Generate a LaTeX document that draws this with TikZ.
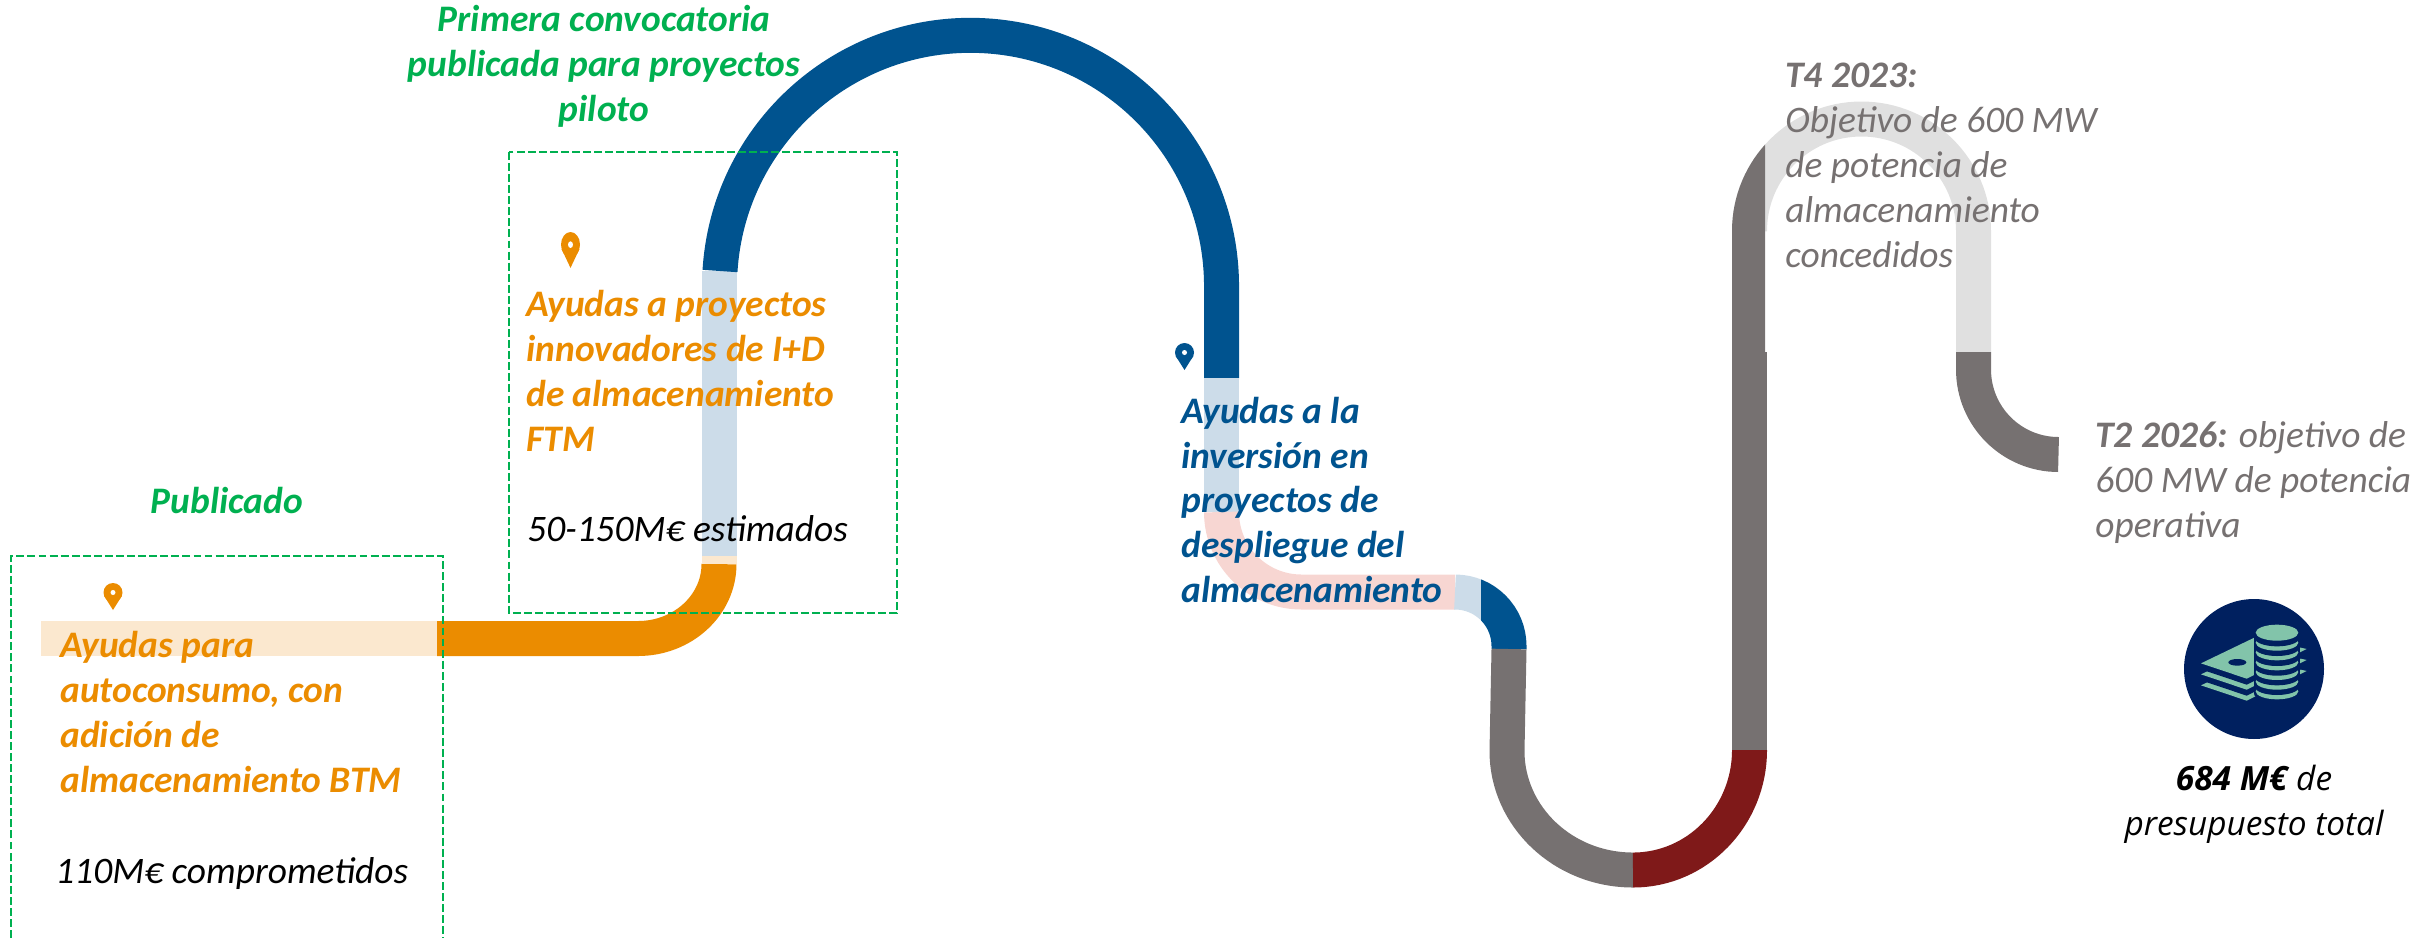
\documentclass[tikz,border=0pt]{standalone}
\usepackage{fontspec}
\setmainfont{Carlito}
\newfontfamily\budgetfont{Open Sans}
\definecolor{naranja}{HTML}{EB8C00}
\definecolor{naranjaclaro}{HTML}{FBE8CF}
\definecolor{azul}{HTML}{00538F}
\definecolor{azulclaro}{HTML}{CCDCE9}
\definecolor{rojoclaro}{HTML}{F7D6D2}
\definecolor{rojo}{HTML}{7F1919}
\definecolor{gris}{HTML}{767171}
\definecolor{grisclaro}{HTML}{E0E0E0}
\definecolor{verde}{HTML}{00B050}
\definecolor{marino}{HTML}{00205F}
\definecolor{menta}{HTML}{82C4AA}
\tikzset{
  tramo/.style={line width=0.7cm},
  caja/.style={verde,line width=1.4pt,dash pattern=on 4.5pt off 1.8pt},
  etiqueta/.style={inner sep=0pt,anchor=base west,align=left,font=\fontsize{21.3}{25.5}\selectfont\itshape},
  destacado/.style={etiqueta,font=\fontsize{21.3}{25.5}\selectfont\bfseries\itshape},
  titulo/.style={destacado,verde,anchor=base,align=center},
  marca/.pic={
    \fill (0,9.5) circle (9.5);
    \fill (-8.8,13) -- (0,27) -- (8.8,13) -- (0,9.5) -- cycle;
    \fill[white] (0,9.5) circle (2.5);
  }
}
\begin{document}
\begin{tikzpicture}[x=0.02cm,y=-0.02cm]
\useasboundingbox (0,0) rectangle (2430,938);
% carretera
\draw[tramo,naranjaclaro] (41,638.5) -- (437,638.5);
\draw[tramo,naranja] (437,638.5) -- (638,638.5) arc[start angle=90,end angle=0,x radius=81,y radius=74.5];
\draw[tramo,naranjaclaro] (719.5,564) -- (719.5,556);
\draw[tramo,azulclaro] (719.5,556) -- (719.5,271);
\draw[tramo,azul] (720,271) arc[start angle=183.5,end angle=360,radius=251] -- (1221.5,378);
\draw[tramo,azulclaro] (1221.5,378) -- (1221.5,512);
\draw[tramo,rojoclaro] (1221.5,512) arc[start angle=180,end angle=90,radius=80] -- (1455,592);
\begin{scope}
  \clip (1400,560) rectangle (1481,660);
  \draw[tramo,azulclaro] (1455,592) arc[start angle=270,end angle=360,radius=54] -- (1509,649);
\end{scope}
\begin{scope}
  \clip (1481,560) rectangle (1560,660);
  \draw[tramo,azul] (1455,592) arc[start angle=270,end angle=360,radius=54] -- (1509,649);
\end{scope}
\draw[tramo,gris] (1509,649) -- (1507,751) arc[start angle=180,end angle=90,x radius=126,y radius=119];
\draw[tramo,rojo] (1633,870) arc[start angle=90,end angle=0,x radius=116.5,y radius=120];
\draw[tramo,gris] (1749.5,750) -- (1749.5,352);
\draw[tramo,grisclaro] (1749.5,231) arc[start angle=180,end angle=360,radius=112] -- (1973.5,352);
\begin{scope}
  \clip (1720,100) rectangle (1765,352);
  \draw[tramo,gris] (1749.5,352) -- (1749.5,231) arc[start angle=180,end angle=360,radius=112];
\end{scope}
\draw[tramo,gris] (1973.5,352) -- (1973.5,369.5) arc[start angle=180,end angle=90,radius=85];
% cajas
\draw[caja] (11,938) |- (443,556) -- (443,938);
\draw[caja] (509,152) rectangle (897,613);
% marcas
\pic[naranja] at (113,583) {marca};
\pic[naranja,yscale=1.33] at (570.5,232) {marca};
\pic[azul] at (1184.5,343) {marca};
% textos
\node[titulo] (publicado) at (227,513) {Publicado};
\node[titulo] (primera) at (604,121) {Primera convocatoria\\publicada para proyectos\\piloto};
\node[destacado,naranja] (autoconsumo) at (60,792) {Ayudas para\\autoconsumo, con\\adición de\\almacenamiento BTM};
\node[etiqueta] (comprometidos) at (55,883) {110M€ comprometidos};
\node[destacado,naranja] (innovadores) at (526,451) {Ayudas a proyectos\\innovadores de I+D\\de almacenamiento\\FTM};
\node[etiqueta] (estimados) at (527,541) {50-150M€ estimados};
\node[destacado,azul] (inversion) at (1181,602.5) {Ayudas a la\\inversión en\\proyectos de\\despliegue del\\almacenamiento};
\node[etiqueta,gris] (concedidos) at (1785,267) {\textbf{T4 2023:}\\Objetivo de 600 MW\\de potencia de\\almacenamiento\\concedidos};
\node[etiqueta,gris] (operativa) at (2095,537) {\textbf{T2 2026:} objetivo de\\600 MW de potencia\\operativa};
% presupuesto
\node[circle,fill=marino,inner sep=0pt,minimum size=2.8cm] (moneda) at (2254,669) {};
\begin{scope}[shift={(2050,580)},scale=0.3333]
  \foreach \d in {66,33} {
    \fill[menta] (453,250+\d) -- (615,172+\d) -- (770,207+\d) -- (590,296+\d) -- cycle;
    \fill[marino] (453,235+\d) -- (615,158+\d) -- (770,193+\d) -- (590,281+\d) -- cycle;
  }
  \fill[menta] (453,250) -- (615,172) -- (770,207) -- (590,296) -- cycle;
  \fill[marino] (562,247) ellipse[x radius=27,y radius=10];
  \fill[marino] (612,158) rectangle (750,340);
  \fill[marino] (681,340) ellipse[x radius=69,y radius=28];
  \foreach \c in {334,305,276,247,217,188} {
    \fill[menta] (681,\c) ellipse[x radius=64,y radius=24];
    \fill[marino] (681,\c-13) ellipse[x radius=66,y radius=24];
  }
  \fill[menta] (681,158) ellipse[x radius=64,y radius=24];
\end{scope}
\node[inner sep=0pt,anchor=base,align=center,font=\fontsize{19}{25.5}\selectfont\budgetfont\itshape] (total) at (2254,835) {\textbf{684 M€} de\\presupuesto total};
\end{tikzpicture}
\end{document}
